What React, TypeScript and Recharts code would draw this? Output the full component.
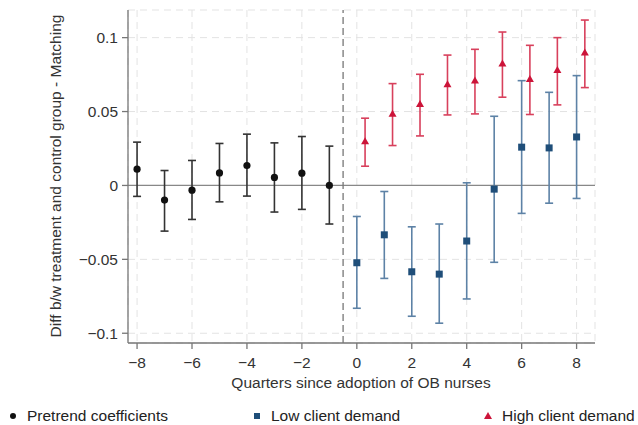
import React from 'react'
import {
  ComposedChart,
  Scatter,
  ErrorBar,
  XAxis,
  YAxis,
  CartesianGrid,
  ReferenceLine,
  Legend,
} from 'recharts'

// ─── Data ─────────────────────────────────────────────────────────────────────

const PRE_QUARTERS = [-8, -7, -6, -5, -4, -3, -2, -1]
const PRE_COEF = [0.011, -0.0099, -0.0032, 0.0085, 0.0135, 0.0054, 0.0083, 0]
const PRE_LOW = [-0.0074, -0.0309, -0.023, -0.0111, -0.0072, -0.018, -0.0162, -0.0261]
const PRE_HIGH = [0.0293, 0.0101, 0.0169, 0.0284, 0.0347, 0.0288, 0.0331, 0.0266]

const POST_QUARTERS = [0, 1, 2, 3, 4, 5, 6, 7, 8]

const LOWDEM_COEF = [-0.0523, -0.0334, -0.0584, -0.06, -0.0376, -0.0025, 0.0259, 0.0254, 0.0328]
const LOWDEM_LOW = [-0.0831, -0.0629, -0.0885, -0.0932, -0.0768, -0.052, -0.0189, -0.012, -0.0088]
const LOWDEM_HIGH = [-0.021, -0.0041, -0.028, -0.0261, 0.0018, 0.0468, 0.0709, 0.063, 0.0743]

const HIGHDEM_COEF = [0.0295, 0.0482, 0.0547, 0.0682, 0.0707, 0.0822, 0.0716, 0.0777, 0.0896]
const HIGHDEM_LOW = [0.013, 0.027, 0.0335, 0.0477, 0.0484, 0.0597, 0.048, 0.0545, 0.0662]
const HIGHDEM_HIGH = [0.0455, 0.0689, 0.0752, 0.0882, 0.0921, 0.1038, 0.0948, 0.1, 0.1119]

// high-demand estimates are dodged to the right of their quarter
const HIGHDEM_DODGE = 0.3

const X_TICKS = [-8, -6, -4, -2, 0, 2, 4, 6, 8]
const Y_TICKS = [-0.1, -0.05, 0, 0.05, 0.1]

// ─── Style ────────────────────────────────────────────────────────────────────

const FONT = '"Liberation Sans", Arial, sans-serif'
const FS = 15.5

const COLORS = {
  pre: '#111111',
  preBar: '#333333',
  low: '#1f4e79',
  lowBar: '#5d82a6',
  high: '#cc1439',
  highBar: '#d8405c',
} as const

// ─── Helpers ──────────────────────────────────────────────────────────────────

interface Row {
  x: number
  y: number
  err: [number, number]
}

function buildRows(xs: number[], coef: number[], lo: number[], hi: number[], dx = 0): Row[] {
  return xs.map((q, i) => ({
    x: q + dx,
    y: coef[i],
    err: [coef[i] - lo[i], hi[i] - coef[i]],
  }))
}

const preRows = buildRows(PRE_QUARTERS, PRE_COEF, PRE_LOW, PRE_HIGH)
const lowRows = buildRows(POST_QUARTERS, LOWDEM_COEF, LOWDEM_LOW, LOWDEM_HIGH)
const highRows = buildRows(POST_QUARTERS, HIGHDEM_COEF, HIGHDEM_LOW, HIGHDEM_HIGH, HIGHDEM_DODGE)

const fmt = (v: number) => (v < 0 ? '\u2212' + String(Math.abs(v)) : String(v))

// ─── Marker shapes ────────────────────────────────────────────────────────────

const Dot = (p: any) => <circle cx={p.cx} cy={p.cy} r={3.6} fill={COLORS.pre} />
const Square = (p: any) => (
  <rect x={p.cx - 3.5} y={p.cy - 3.5} width={7} height={7} fill={COLORS.low} />
)
const Tri = (p: any) => (
  <polygon
    points={`${p.cx},${p.cy - 4.5} ${p.cx + 4},${p.cy + 2.5} ${p.cx - 4},${p.cy + 2.5}`}
    fill={COLORS.high}
  />
)

// ─── Legend ───────────────────────────────────────────────────────────────────

function ChartLegend() {
  const items = [
    { label: 'Pretrend coefficients', left: 8, mark: <circle cx={5} cy={5} r={3} fill={COLORS.pre} /> },
    { label: 'Low client demand', left: 252, mark: <rect x={2} y={2} width={6} height={6} fill={COLORS.low} /> },
    { label: 'High client demand', left: 483, mark: <polygon points="5,1 9,8 1,8" fill={COLORS.high} /> },
  ]
  return (
    <div style={{ position: 'relative', width: 638, height: 22, fontFamily: FONT, fontSize: FS, color: '#222' }}>
      {items.map((it) => (
        <div
          key={it.label}
          style={{ position: 'absolute', left: it.left, top: 0, display: 'flex', alignItems: 'center', whiteSpace: 'nowrap' }}
        >
          <svg width={10} height={10} style={{ marginRight: 9 }}>
            {it.mark}
          </svg>
          <span>{it.label}</span>
        </div>
      ))}
    </div>
  )
}

// ─── Component ────────────────────────────────────────────────────────────────

export default function App() {
  const tick = { fontSize: FS, fill: '#333', fontFamily: FONT }
  return (
    <div style={{ position: 'absolute', left: 0, top: 0, width: 638, height: 425, background: '#fff' }}>
      <ComposedChart
        width={638}
        height={425}
        margin={{ top: 10, right: 43, bottom: 0, left: 0 }}
        style={{ fontFamily: FONT }}
      >
        <CartesianGrid stroke="#e3e3e3" strokeDasharray="7 5" />
        <XAxis
          type="number"
          dataKey="x"
          domain={[-8.33, 8.67]}
          ticks={X_TICKS}
          tickFormatter={fmt}
          allowDataOverflow
          height={82}
          tick={tick}
          tickSize={6}
          tickMargin={8}
          stroke="#777"
          strokeWidth={1.3}
          label={{
            content: () => (
              <text x={361} y={388} textAnchor="middle" fontSize={FS} fill="#333" fontFamily={FONT}>
                Quarters since adoption of OB nurses
              </text>
            ),
          }}
        />
        <YAxis
          type="number"
          dataKey="y"
          domain={[-0.1066, 0.1187]}
          ticks={Y_TICKS}
          tickFormatter={fmt}
          allowDataOverflow
          width={128}
          tick={tick}
          tickSize={6}
          tickMargin={4}
          stroke="#777"
          strokeWidth={1.3}
          label={{
            content: () => (
              <text
                x={61}
                y={176}
                transform="rotate(-90, 61, 176)"
                textAnchor="middle"
                fontSize={FS}
                fill="#333"
                fontFamily={FONT}
              >
                Diff b/w treatment and control group - Matching
              </text>
            ),
          }}
        />
        <ReferenceLine y={0} stroke="#888" strokeWidth={1.3} />
        <ReferenceLine x={-0.5} stroke="#777" strokeWidth={1.3} strokeDasharray="7 4" />
        <Legend
          verticalAlign="middle"
          align="center"
          layout="horizontal"
          wrapperStyle={{ left: 0, top: 407, width: 638 }}
          content={() => <ChartLegend />}
        />

        <Scatter name="Pretrend coefficients" data={preRows} shape={Dot} isAnimationActive={false}>
          <ErrorBar dataKey="err" direction="y" width={4} stroke={COLORS.preBar} strokeWidth={1.6} />
        </Scatter>
        <Scatter name="Low client demand" data={lowRows} shape={Square} isAnimationActive={false}>
          <ErrorBar dataKey="err" direction="y" width={4} stroke={COLORS.lowBar} strokeWidth={1.6} />
        </Scatter>
        <Scatter name="High client demand" data={highRows} shape={Tri} isAnimationActive={false}>
          <ErrorBar dataKey="err" direction="y" width={4} stroke={COLORS.highBar} strokeWidth={1.6} />
        </Scatter>
      </ComposedChart>
    </div>
  )
}
